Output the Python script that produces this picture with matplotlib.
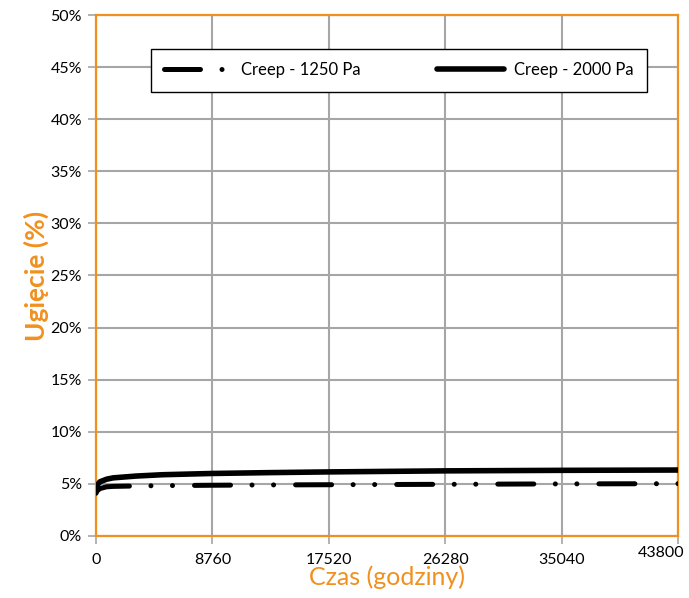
import matplotlib
matplotlib.use("Agg")
import matplotlib.pyplot as plt
import matplotlib.transforms as mtransforms
import numpy as np

# data (hours, deflection in %)
czas = [0, 100, 300, 800, 1300, 3000, 5000, 8760, 13000, 17520, 26280, 35040, 43800]
creep_1250 = [4.1, 4.35, 4.55, 4.72, 4.76, 4.8, 4.83, 4.87, 4.9, 4.92, 4.96, 5.0, 5.02]
creep_2000 = [4.3, 4.9, 5.2, 5.45, 5.58, 5.75, 5.88, 6.0, 6.08, 6.15, 6.25, 6.3, 6.33]

x_ticks = [0, 8760, 17520, 26280, 35040, 43800]
y_ticks = [0, 5, 10, 15, 20, 25, 30, 35, 40, 45, 50]

orange = "#F0901E"
grid_gray = "#A6A6A6"

plt.rcParams['font.family'] = ['Lato', 'DejaVu Sans']

fig = plt.figure(figsize=(6.89, 5.98), dpi=100)
ax = fig.add_axes([0.1393, 0.1037, 0.8447, 0.8712])

ax.plot(czas, creep_1250, color="black", lw=3.6, dashes=(7.2, 4.3, 0.01, 4.3, 0.01, 4.4),
        dash_capstyle="round", label="Creep - 1250 Pa", zorder=3)
ax.plot(czas, creep_2000, color="black", lw=4.0, solid_capstyle="round",
        label="Creep - 2000 Pa", zorder=3)

ax.set_xlim(0, 43800)
ax.set_ylim(0, 50)
ax.set_xticks(x_ticks)
ax.set_yticks(y_ticks)
ax.set_yticklabels([f"{v}%" for v in y_ticks])

ax.grid(True, color=grid_gray, lw=1.5)
ax.set_axisbelow(True)

for s in ax.spines.values():
    s.set_color(orange)
    s.set_linewidth(1.6)

ax.tick_params(axis="both", direction="out", length=6, width=1.2, color=grid_gray,
               labelsize=11.5, labelcolor="black")
ax.tick_params(axis="x", pad=6)
ax.tick_params(axis="y", pad=4)

# last x label sits a bit left and up in the original
last = ax.get_xticklabels()[-1]
last.set_transform(last.get_transform() +
                   mtransforms.ScaledTranslation(-17 / 100, 7 / 100, fig.dpi_scale_trans))

ax.set_xlabel("Czas (godziny)", color=orange, fontsize=18, labelpad=-1)
ax.set_ylabel("Ugięcie (%)", color=orange, fontsize=19, fontweight="bold", labelpad=1)

leg = ax.legend(loc="upper center", bbox_to_anchor=(0.52, 0.935), ncol=2, fontsize=12,
                frameon=True, fancybox=False, framealpha=1, edgecolor="black",
                handlelength=4, handletextpad=0.6, columnspacing=4.6, borderpad=0.8,
                borderaxespad=0)
leg.get_frame().set_linewidth(1.0)

fig.savefig("out.png", dpi=100)
